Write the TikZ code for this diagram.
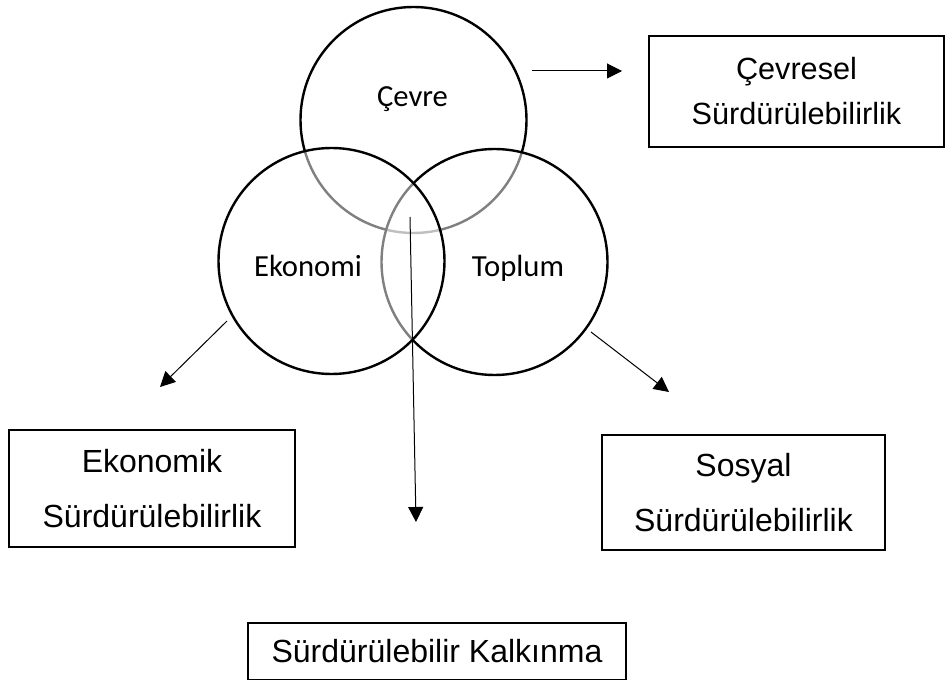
\documentclass[tikz,border=0pt]{standalone}
\usepackage{fontspec}
\setmainfont{Liberation Sans}
\newfontfamily\carlito{Carlito}
\usetikzlibrary{arrows.meta,positioning}

\begin{document}
\begin{tikzpicture}[x=0.75pt,y=-0.75pt,
        daire/.style={circle,draw,line width=1.8pt,minimum size=169.5pt,inner sep=0pt,fill=white,fill opacity=0.5},
        etiket/.style={font=\carlito\fontsize{23}{28}\selectfont,anchor=base},
        kutu/.style={draw,line width=1pt,align=center,inner sep=0pt},
        ok/.style={line width=0.75pt,-{Triangle[length=11.25pt,width=11.25pt]}}]
        \useasboundingbox (0,0) rectangle (945,680);
        % Circles
        \node[daire] (cevre) at (413.5,120) {};
        \node[daire] (toplum) at (494.5,262) {};
        \node[daire] (ekonomi) at (331.5,261) {};
        % Labels
        \node[etiket] (lcevre) at (412.5,107) {Çevre};
        \node[etiket] (lekonomi) at (308,277) {Ekonomi};
        \node[etiket] (ltoplum) at (518,277) {Toplum};
        % Boxes
        \node[kutu,minimum width=221.25pt,minimum height=83.25pt,font=\fontsize{23}{33.75}\selectfont] (kcevre) at (796.5,91.5) {Çevresel\\Sürdürülebilirlik};
        \node[kutu,minimum width=214.5pt,minimum height=87.75pt,font=\fontsize{24}{41.25}\selectfont] (kekonomi) at (152,488.5) {Ekonomik\\Sürdürülebilirlik};
        \node[kutu,minimum width=212.25pt,minimum height=86.25pt,font=\fontsize{24}{41.25}\selectfont] (ksosyal) at (743.5,492.5) {Sosyal\\Sürdürülebilirlik};
        \node[kutu,minimum width=283.5pt,minimum height=42.75pt,font=\fontsize{24}{29}\selectfont] (kkalkinma) at (437,651.5) {Sürdürülebilir Kalkınma};
        % Arrows
        \coordinate (c1) at (532,71);
        \coordinate (c2) at (622,71);
        \coordinate (e1) at (227,321);
        \coordinate (e2) at (160,387);
        \coordinate (t1) at (591,332);
        \coordinate (t2) at (669,392);
        \coordinate (m1) at (410,217);
        \coordinate (m2) at (416,522);
        \foreach \a/\b in {c1/c2, e1/e2, t1/t2, m1/m2}
            \draw[ok] (\a) -- (\b);
\end{tikzpicture}
\end{document}
